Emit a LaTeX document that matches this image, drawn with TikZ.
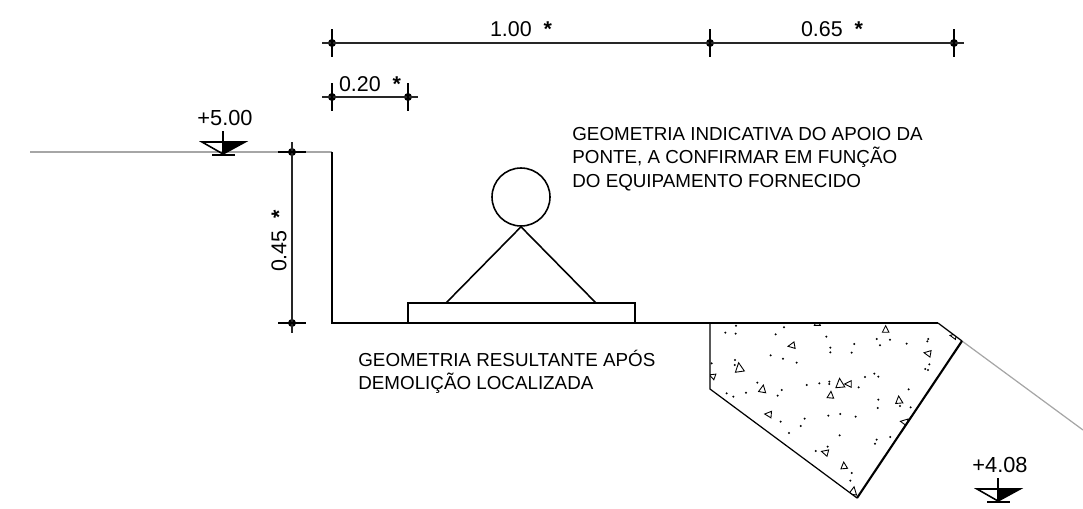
\documentclass[tikz,border=0pt]{standalone}
\usepackage{fontspec}
\setmainfont{Liberation Sans}
\usepackage{tikz}

\tikzset{
    wall/.style={line width=1.2pt, black},
    ground/.style={line width=0.7pt, black!35},
    dimline/.style={line width=0.65pt, black!85, shorten >=-0.28cm, shorten <=-0.28cm},
    dimdot/.style={circle, fill=black, inner sep=0pt, minimum size=0.16cm},
    note/.style={anchor=west, align=left, font=\fontsize{10.7}{13.3}\selectfont, inner sep=0pt},
    dimtext/.style={font=\fontsize{12.2}{13}\selectfont, inner sep=0pt},
    leveltext/.style={font=\fontsize{12.4}{13}\selectfont, inner sep=0pt}
}

\begin{document}
\begin{tikzpicture}[x=0.02cm, y=-0.02cm]
    \useasboundingbox (0,0) rectangle (1083,508);

    % concrete fill marks
    \begin{scope}[shift={(700,310)}, x=0.00667cm, y=-0.00667cm]
        \clip (30,39) -- (714,39) -- (786,93) -- (471,564) -- (30,237) -- cycle;
        \foreach \px/\py in {108/47,252/52,76/68,107/71,227/73,379/80,530/87,570/89,685/87,682/94,463/102,540/106,620/101,391/113,391/127,455/128,212/136,249/146,290/158,105/150,104/165,35/160,688/163,676/177,684/180,523/191,535/200,495/201,388/215,388/222,358/220,320/225,476/232,172/218,245/240,233/257,80/250,100/260,138/248,626/238,535/269,533/294,600/288,632/292,385/317,421/312,467/320,314/326,302/348,242/335,267/369,419/376,530/389,525/401,571/381,383/410,347/423,455/489,451/512}
            \fill (\px,\py) circle (0.022cm);
        \foreach \px/\py/\rot/\sz in {557/58/0/1.1,275/107/100/1.1,683/130/80/1.1,118/173/8/1.5,37/198/70/1,188/237/-10/1.2,420/220/5/1.5,445/222/90/1.1,392/255/-5/1.1,597/270/5/1.2,205/313/85/1.1,613/336/80/1.2,375/427/75/1.1,432/467/5/1.1,460/543/-10/1.3,760/78/80/1,352/38/0/1}
            \draw[line width=0.5pt, shift={(\px,\py)}, rotate=\rot, scale=\sz] (0,-10) -- (9,8) -- (-9,8) -- cycle;
    \end{scope}

    % ground and section outline
    \coordinate (groundL) at (30,152);
    \coordinate (wallTop) at (332,152);
    \coordinate (wallFoot) at (332,323);
    \coordinate (slabEnd) at (938,323);
    \coordinate (edge) at (962,341);
    \coordinate (groundR) at (1083,430);
    \coordinate (concA) at (710,323);
    \coordinate (concB) at (710,389);
    \coordinate (concC) at (857,498);

    \draw[ground] (groundL) -- (wallTop);
    \draw[ground] (edge) -- (groundR);
    \draw[wall] (wallTop) -- (wallFoot) -- (slabEnd);
    \draw[line width=0.7pt] (slabEnd) -- (edge);
    \draw[line width=0.7pt] (concA) -- (concB) -- (concC);
    \draw[wall] (concC) -- (edge);

    % bridge bearing
    \node (plate) [draw, line width=0.9pt, minimum width=4.54cm, minimum height=0.4cm, inner sep=0pt] at (521.5,313) {};
    \node (tube) [draw, circle, line width=0.9pt, minimum size=1.16cm, inner sep=0pt] at (521,197) {};
    \coordinate (legL) at (446,303);
    \coordinate (legR) at (596,303);
    \draw[line width=0.9pt] (legL) -- (tube.south) -- (legR);

    % dimensions
    \node (d1) [dimdot] at (332,43) {};
    \node (d2) [dimdot] at (710,43) {};
    \node (d3) [dimdot] at (954,43) {};
    \node (d4) [dimdot] at (332,97) {};
    \node (d5) [dimdot] at (408,97) {};
    \node (d6) [dimdot] at (292,152) {};
    \node (d7) [dimdot] at (292,323) {};

    \draw[dimline] (d1) -- (d2);
    \draw[dimline] (d2) -- (d3);
    \draw[dimline] (d4) -- (d5);
    \draw[dimline] (d6) -- (d7);
    \foreach \tick in {d1,d2,d3,d4,d5}
        \draw[line width=0.65pt] (\tick.center) ++(0,-14) -- ++(0,28);
    \foreach \tick in {d6,d7}
        \draw[line width=0.65pt] (\tick.center) ++(-14,0) -- ++(28,0);

    \node (lab1) [dimtext] at (521,29) {1.00\ \ \textbf{*}};
    \node (lab2) [dimtext] at (832,29) {0.65\ \ \textbf{*}};
    \node (lab3) [dimtext] at (370,84) {0.20\ \ \textbf{*}};
    \node (lab4) [dimtext, rotate=90] at (279,241) {0.45\ \ \textbf{*}};

    % level marks
    \foreach \lx/\ly/\lev in {223/142/+5.00, 998/489/+4.08} {
        \fill (\lx,\ly) -- (\lx+22,\ly) -- (\lx,\ly+12) -- cycle;
        \draw[line width=0.9pt] (\lx-21,\ly) -- (\lx+22,\ly) -- (\lx,\ly+12) -- cycle;
        \draw[line width=0.9pt] (\lx,\ly-11) -- (\lx,\ly+13);
        \draw[line width=1pt] (\lx-11,\ly+13) -- (\lx+12,\ly+13);
        \node [leveltext] at (\lx+2,\ly-24) {\lev};
    }

    % notes
    \node (note1) [note] at (572,159) {GEOMETRIA INDICATIVA DO APOIO DA\\PONTE, A CONFIRMAR EM FUNÇÃO\\DO EQUIPAMENTO FORNECIDO};
    \node (note2) [note] at (358,372) {GEOMETRIA RESULTANTE APÓS\\DEMOLIÇÃO LOCALIZADA};
\end{tikzpicture}
\end{document}
